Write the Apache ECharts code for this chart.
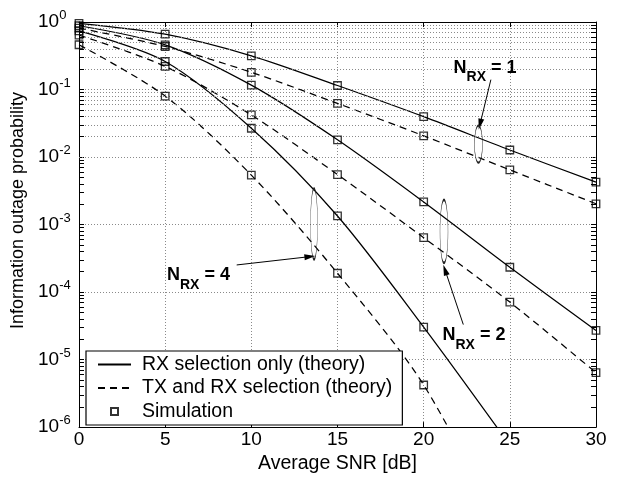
<!DOCTYPE html>
<html><head><meta charset="utf-8">
<script src="https://cdn.jsdelivr.net/npm/echarts@6/dist/echarts.min.js"></script>
<style>html,body{margin:0;padding:0;background:#fff}#c{width:618px;height:479px}</style>
</head><body><div id="c"></div>
<script>
// ---------- data ----------
const snr = [0, 5, 10, 15, 20, 25, 30];
const rx1 = [0.957, 0.66, 0.316, 0.1146, 0.0396, 0.0127, 0.00425];
const rx2 = [0.88, 0.459, 0.116, 0.018, 0.00216, 2.33e-4, 2.7e-5];
const rx4 = [0.74, 0.26, 0.0267, 0.00134, 3.03e-5, 5.4e-7, null];
const txrx1 = [0.81, 0.434, 0.18, 0.0622, 0.0206, 0.00645, 0.00203];
const txrx2 = [0.64, 0.22, 0.042, 0.0055, 6.4e-4, 7.1e-5, 6.4e-6];
const txrx4 = [0.46, 0.08, 0.0054, 1.9e-4, 4.2e-6, 1.7e-8, null];
const xTicks = [0, 5, 10, 15, 20, 25, 30];
const yDecades = [-6, -5, -4, -3, -2, -1, 0];
const minorMantissas = [2, 3, 4, 5, 6, 7, 8, 9];
const legendNames = ['RX selection only (theory)', 'TX and RX selection (theory)', 'Simulation'];
const xName = 'Average SNR [dB]';
const yName = 'Information outage probability';
// annotation labels: N_RX value, text anchor, arrow start, arrow tip, ellipse centre (data coords)
const annN = ['1', '2', '4'];
const annText = [[23.56, 0.211], [22.92, 2.29e-5], [6.93, 1.78e-4]];
const annArrowFrom = [[23.9, 0.14], [22.3, 3.3e-5], [9.15, 2.52e-4]];
const annArrowTo = [[23.27, 0.0306], [21.24, 2.13e-4], [13.4, 3.35e-4]];
const annEllipse = [[23.18, 0.0155], [21.18, 7.9e-4], [13.64, 1.02e-3]];

// ---------- styling ----------
const FONT = '"Liberation Sans", Arial, Helvetica, sans-serif';
const yMin = Math.pow(10, yDecades[0]);
const yMax = Math.pow(10, yDecades[yDecades.length - 1]);
const xMin = xTicks[0], xMax = xTicks[xTicks.length - 1];
const DASH = [7, 5];
const ellipseSizes = [[8, 37], [8, 63], [7, 71]];

const theory = [
  { name: legendNames[0], values: rx1, type: 'solid' },
  { name: legendNames[0], values: rx2, type: 'solid' },
  { name: legendNames[0], values: rx4, type: 'solid' },
  { name: legendNames[1], values: txrx1, type: DASH },
  { name: legendNames[1], values: txrx2, type: DASH },
  { name: legendNames[1], values: txrx4, type: DASH }
];

const series = [];
// minor grid lines + minor ticks (helper series, through the log scale)
const minorValues = [];
yDecades.slice(0, -1).forEach(d => minorMantissas.forEach(m => minorValues.push(m * Math.pow(10, d))));
const tickLen = 0.29; // in dB units (~5px)
series.push({
  type: 'line', name: '_grid', data: [], z: 1, silent: true,
  markLine: {
    silent: true, symbol: 'none', animation: false, label: { show: false },
    lineStyle: { color: '#8a8a8a', width: 1, type: [1, 2] },
    emphasis: { disabled: true },
    data: minorValues.map(v => ({ yAxis: v }))
  }
});
series.push({
  type: 'line', name: '_ticks', data: [], z: 3, silent: true,
  markLine: {
    silent: true, symbol: 'none', animation: false, label: { show: false },
    lineStyle: { color: '#000', width: 1, type: 'solid' },
    emphasis: { disabled: true },
    data: minorValues.flatMap(v => [
      [{ coord: [xMin, v] }, { coord: [xMin + tickLen, v] }],
      [{ coord: [xMax - tickLen, v] }, { coord: [xMax, v] }]
    ])
  }
});

theory.forEach(t => {
  series.push({
    type: 'line', name: t.name,
    data: snr.map((x, i) => [x, t.values[i]]),
    symbol: 'none', showSymbol: false, smooth: 0.3, connectNulls: false,
    lineStyle: { color: '#000', width: 1.25, type: t.type },
    itemStyle: { color: '#000' },
    z: 4, silent: true, clip: true
  });
});

const simPts = [];
theory.forEach(t => snr.forEach((x, i) => {
  const v = t.values[i];
  if (v != null && v >= yMin) simPts.push([x, v]);
}));
series.push({
  type: 'scatter', name: legendNames[2], data: simPts,
  symbol: 'rect', symbolSize: 7.5, clip: false,
  itemStyle: { color: 'rgba(255,255,255,0)', borderColor: '#000', borderWidth: 1.3 },
  z: 5, silent: true
});

// annotations
const rich = {
  n: { fontSize: 18, fontWeight: 'bold', fontFamily: FONT, color: '#000', lineHeight: 34, verticalAlign: 'middle' },
  s: { fontSize: 14, fontWeight: 'bold', fontFamily: FONT, color: '#000', lineHeight: 14, verticalAlign: 'bottom' }
};
series.push({
  type: 'line', name: '_ann', data: [], z: 6, silent: true,
  markLine: {
    silent: true, animation: false, label: { show: false },
    symbol: ['none', 'triangle'],
    lineStyle: { color: '#000', width: 1, type: 'solid' },
    emphasis: { disabled: true },
    data: annN.map((n, i) => [
      { coord: annArrowFrom[i], symbol: 'none' },
      { coord: annArrowTo[i], symbol: 'triangle', symbolSize: [6, 11] }
    ])
  },
  markPoint: {
    silent: true, animation: false,
    data: annN.map((n, i) => ({
      coord: annEllipse[i], symbol: 'circle', symbolSize: ellipseSizes[i],
      itemStyle: { color: 'rgba(0,0,0,0)', borderColor: '#222', borderWidth: 1 },
      label: { show: false }
    })).concat(annN.map((n, i) => ({
      coord: annText[i], symbol: 'rect', symbolSize: 1,
      itemStyle: { color: 'rgba(0,0,0,0)' },
      label: { show: true, position: 'inside', formatter: '{n|N}{s|RX}{n| = ' + n + '}', rich: rich }
    })))
  }
});

const chart = echarts.init(document.getElementById('c'), null, { renderer: 'canvas' });
const gridLine = { show: true, lineStyle: { color: '#8a8a8a', width: 1, type: [1, 2] } };
chart.setOption({
  animation: false,
  backgroundColor: '#fff',
  textStyle: { fontFamily: FONT },
  grid: { left: 79, right: 22, top: 22, bottom: 49, containLabel: false },
  legend: {
    data: [
      { name: legendNames[0], itemStyle: { opacity: 0 } },
      { name: legendNames[1], itemStyle: { opacity: 0 } },
      { name: legendNames[2], icon: 'path://M0,0L10,0L10,10L0,10Z' }
    ],
    orient: 'vertical', left: 86, top: 351, symbolKeepAspect: true,
    padding: [3.5, 10, 3.5, 11], itemWidth: 33, itemHeight: 7, itemGap: 3.5,
    backgroundColor: '#fff', borderColor: '#000', borderWidth: 1.2, borderRadius: 0,
    selectedMode: false, z: 10,
    textStyle: { fontSize: 19.5, fontFamily: FONT, color: '#000', lineHeight: 19, padding: [0, 0, 0, 6] }
  },
  xAxis: [{
    type: 'value', min: xMin, max: xMax, interval: 5, position: 'bottom',
    axisLine: { show: true, onZero: false, lineStyle: { color: '#000', width: 1 } },
    axisTick: { show: true, inside: true, length: 5, lineStyle: { color: '#000' } },
    axisLabel: { fontSize: 19, color: '#000', fontFamily: FONT, margin: 3 },
    splitLine: gridLine,
    name: xName, nameLocation: 'middle', nameGap: 25,
    nameTextStyle: { fontSize: 19.5, color: '#000', fontFamily: FONT }
  }, {
    type: 'value', min: xMin, max: xMax, interval: 5, position: 'top',
    axisLine: { show: true, onZero: false, lineStyle: { color: '#000', width: 1 } },
    axisTick: { show: true, inside: true, length: 5, lineStyle: { color: '#000' } },
    axisLabel: { show: false }, splitLine: { show: false }
  }],
  yAxis: [{
    type: 'log', logBase: 10, min: yMin, max: yMax, splitNumber: 6, position: 'left',
    axisLine: { show: true, onZero: false, lineStyle: { color: '#000', width: 1 } },
    axisTick: { show: true, inside: true, length: 5, lineStyle: { color: '#000' } },
    axisLabel: {
      align: 'left', margin: 41,
      formatter: v => {
        const e = Math.round(Math.log10(v));
        return '{b|10}{s|' + (e < 0 ? '-' + (-e) : e) + '}';
      },
      rich: {
        b: { fontSize: 19, fontFamily: FONT, color: '#000', lineHeight: 26, verticalAlign: 'middle' },
        s: { fontSize: 13, fontFamily: FONT, color: '#000', lineHeight: 12, verticalAlign: 'top' }
      }
    },
    splitLine: gridLine,
    name: yName, nameLocation: 'middle', nameGap: 47,
    nameTextStyle: { fontSize: 18, color: '#000', fontFamily: FONT, padding: [0, 0, 0, 28] }
  }, {
    type: 'log', logBase: 10, min: yMin, max: yMax, splitNumber: 6, position: 'right',
    axisLine: { show: true, onZero: false, lineStyle: { color: '#000', width: 1 } },
    axisTick: { show: true, inside: true, length: 5, lineStyle: { color: '#000' } },
    axisLabel: { show: false }, splitLine: { show: false }
  }],
  series: series
});
</script></body></html>
